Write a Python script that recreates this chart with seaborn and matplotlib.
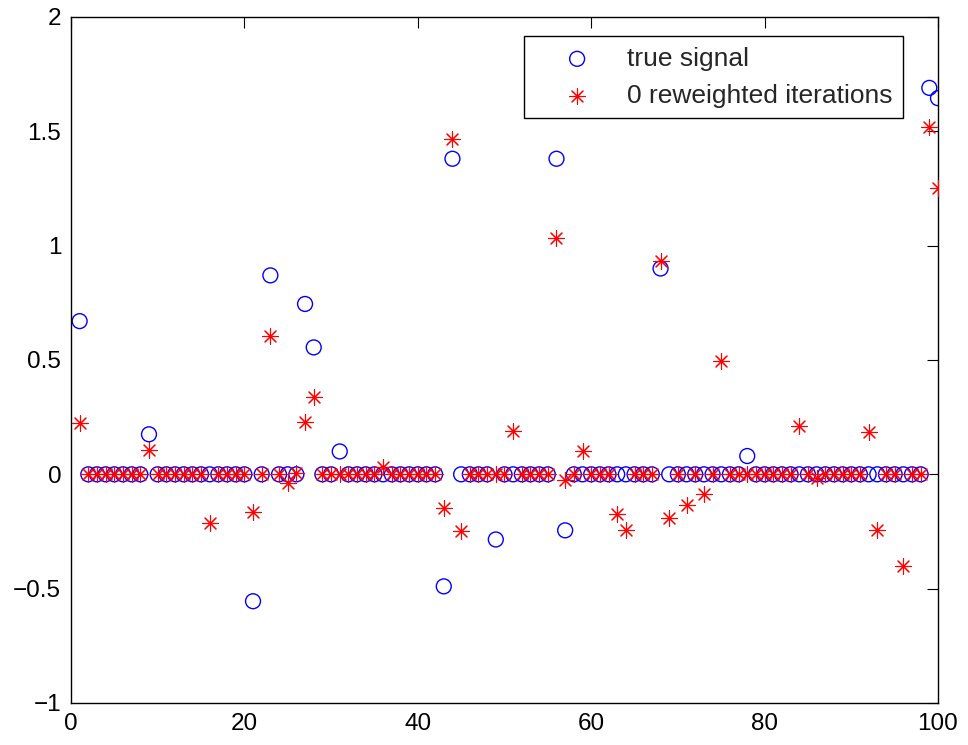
"""Sparse signal recovery: true signal vs estimate after 0 reweighted iterations."""
import matplotlib
matplotlib.use("Agg")
import matplotlib.pyplot as plt
import numpy as np
import pandas as pd
import seaborn as sns

# sample index 1..100
index = list(range(1, 101))

true_signal = [
    0.67, 0, 0, 0, 0, 0, 0, 0, 0.175, 0,
    0, 0, 0, 0, 0, 0, 0, 0, 0, 0,
    -0.555, 0, 0.87, 0, 0, 0, 0.745, 0.555, 0, 0,
    0.10, 0, 0, 0, 0, 0, 0, 0, 0, 0,
    0, 0, -0.49, 1.38, 0, 0, 0, 0, -0.285, 0,
    0, 0, 0, 0, 0, 1.38, -0.245, 0, 0, 0,
    0, 0, 0, 0, 0, 0, 0, 0.90, 0, 0,
    0, 0, 0, 0, 0, 0, 0, 0.08, 0, 0,
    0, 0, 0, 0, 0, 0, 0, 0, 0, 0,
    0, 0, 0, 0, 0, 0, 0, 0, 1.69, 1.645,
]

estimate = [
    0.225, 0, 0, 0, 0, 0, 0, 0, 0.105, 0,
    0, 0, 0, 0, 0, -0.215, 0, 0, 0, 0,
    -0.165, 0, 0.607, 0, -0.04, 0.007, 0.23, 0.337, 0, 0,
    0, 0, 0, 0, 0, 0.03, 0, 0, 0, 0,
    0, 0, -0.147, 1.468, -0.25, 0, 0, 0, 0, 0,
    0.19, 0, 0, 0, 0, 1.033, -0.025, 0, 0.10, 0,
    0, 0, -0.172, -0.242, 0, 0, 0, 0.935, -0.19, 0,
    -0.133, 0, -0.087, 0, 0.497, 0, 0, 0, 0, 0,
    0, 0, 0, 0.213, 0, -0.015, 0, 0, 0, 0,
    0, 0.187, -0.245, 0, 0, -0.40, 0, 0, 1.52, 1.25,
]

x_ticks = [0, 20, 40, 60, 80, 100]
y_ticks = [-1, -0.5, 0, 0.5, 1, 1.5, 2]
y_tick_labels = ["\u22121", "\u22120.5", "0", "0.5", "1", "1.5", "2"]

df = pd.DataFrame({"index": index, "true": true_signal, "est": estimate})

sns.set_theme(style="white")
plt.rcParams["font.family"] = ["Liberation Sans", "DejaVu Sans"]

fig = plt.figure(figsize=(9.68, 7.45), dpi=100)
ax = fig.add_axes([0.0733, 0.0564, 0.8957, 0.9208])

sns.scatterplot(data=df, x="index", y="true", ax=ax, marker="o", s=115,
                facecolor="none", edgecolor="blue", linewidth=1.0,
                label="true signal", zorder=2)
sns.scatterplot(data=df, x="index", y="est", ax=ax, marker=(8, 2, 0), s=125,
                color="red", linewidth=0.8,
                label="0 reweighted iterations", zorder=3)

ax.set_xlim(0, 100)
ax.set_ylim(-1, 2)
ax.set_xticks(x_ticks)
ax.set_yticks(y_ticks)
ax.set_yticklabels(y_tick_labels)
ax.set_xlabel("")
ax.set_ylabel("")

ax.tick_params(direction="in", length=8, width=0.8, top=True, right=True,
               labelsize=17.5, colors="black", pad=7)
for spine in ax.spines.values():
    spine.set_color("black")
    spine.set_linewidth(1.0)

leg = ax.legend(loc="upper right", bbox_to_anchor=(0.96, 0.972),
                fontsize=19, frameon=True, fancybox=False, framealpha=1,
                edgecolor="black", borderpad=0.4, handlelength=3.2,
                handletextpad=0.3, labelspacing=0.5, borderaxespad=0)
leg.get_frame().set_linewidth(1.0)

fig.savefig("out.png", dpi=100)
